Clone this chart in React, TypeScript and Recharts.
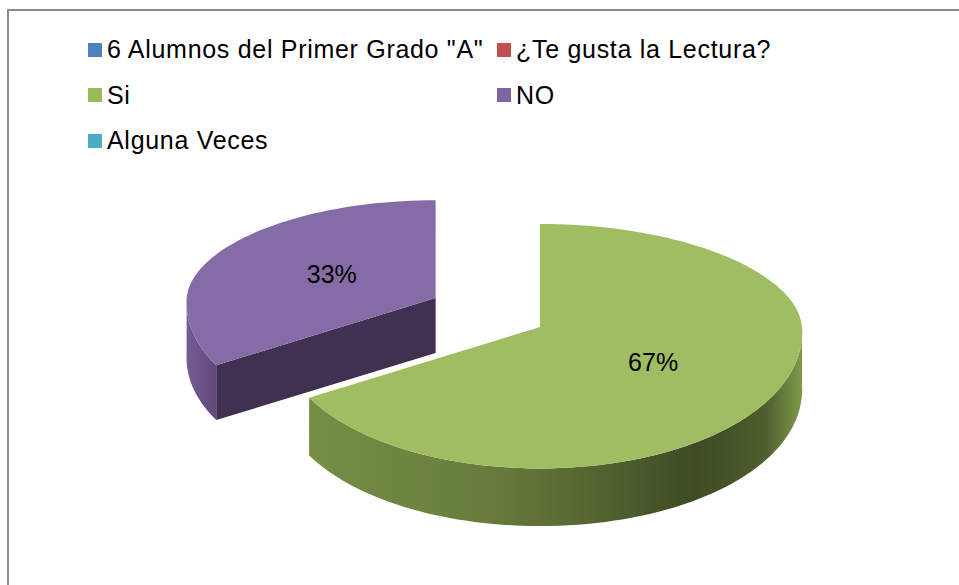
import React from "react";
import { Cell, Legend, Pie, PieChart } from "recharts";

const categories = ['6 Alumnos del Primer Grado "A"', "¿Te gusta la Lectura?", "Si", "NO", "Alguna Veces"];
const students = [0, 0, 4, 2, 0];
const exploded = ["NO"];

const COLORS = ["#4F81BD", "#C0504D", "#9BBB59", "#8064A2", "#4BACC6"];
const FONT = '"Liberation Sans", Arial, sans-serif';

const data = categories.map((name, i) => ({ name, value: students[i] }));

// fake 3d: squashed ellipse, front half a bit taller/wider than the back half
const RAD = Math.PI / 180;
const BACK = 0.393;
const FRONT = 0.54;
const WIDEN = 0.035;
const DEPTH = 0.22;
const EXPLODE = 0.46;

function shade(hex: string, k: number) {
  const n = parseInt(hex.slice(1), 16);
  const c = [(n >> 16) & 255, (n >> 8) & 255, n & 255].map((v) =>
    k <= 1 ? Math.round(v * k) : Math.round(v + (255 - v) * (k - 1))
  );
  return `rgb(${c[0]},${c[1]},${c[2]})`;
}

function pt(cx: number, cy: number, r: number, a: number, z = 0): [number, number] {
  const s = Math.sin(a * RAD);
  return [cx + r * (1 - WIDEN * s) * Math.cos(a * RAD), cy - s * r * (s > 0 ? BACK : FRONT) + z];
}

function arc(cx: number, cy: number, r: number, from: number, to: number, z = 0) {
  const n = Math.max(2, Math.ceil(Math.abs(to - from) / 2));
  const pts: [number, number][] = [];
  for (let i = 0; i <= n; i++) pts.push(pt(cx, cy, r, from + ((to - from) * i) / n, z));
  return pts;
}

const toPath = (pts: [number, number][]) =>
  pts.map((p, i) => `${i ? "L" : "M"}${p[0].toFixed(1)},${p[1].toFixed(1)}`).join("") + "Z";

function offsetFor(name: string, mid: number, r: number) {
  if (!exploded.includes(name)) return [0, 0];
  return [EXPLODE * r * Math.cos(mid * RAD), -EXPLODE * r * Math.sin(mid * RAD) * 0.48];
}

function sliceInfo(props: any) {
  const { cx, cy, outerRadius, startAngle: s, endAngle: e, fill } = props;
  const name = props.payload?.name ?? props.name;
  const [dx, dy] = offsetFor(name, (s + e) / 2, outerRadius);
  // pieces pushed to the back look a little smaller
  const r = outerRadius * (1 + (dy / outerRadius) * 0.45);
  return { x: cx + dx, y: cy + dy, r, s, e, fill, name };
}

function Walls(props: any) {
  const { x, y, r, s, e, fill, name } = sliceInfo(props);
  if (Math.abs(s - e) < 0.01) return <g />;
  const d = r * DEPTH;
  const id = `wall-${categories.indexOf(name)}`;
  const lo = Math.min(s, e);
  const hi = Math.max(s, e);
  const spans: [number, number][] = [];
  for (const k of [-360, 0, 360]) {
    const a = Math.max(lo, -180 + k);
    const b = Math.min(hi, k);
    if (b > a) spans.push([a, b]);
  }
  const radial: [number, number][][] = [];
  if (Math.cos(s * RAD) < -1e-6) radial.push([[x, y], pt(x, y, r, s), pt(x, y, r, s, d), [x, y + d]]);
  if (Math.cos(e * RAD) > 1e-6) radial.push([[x, y], pt(x, y, r, e), pt(x, y, r, e, d), [x, y + d]]);
  return (
    <g>
      <defs>
        <linearGradient id={id} gradientUnits="userSpaceOnUse" x1={x - r * 1.02} y1={0} x2={x + r} y2={0}>
          <stop offset="0" stopColor={shade(fill, 0.95)} />
          <stop offset="0.06" stopColor={shade(fill, 0.76)} />
          <stop offset="0.4" stopColor={shade(fill, 0.67)} />
          <stop offset="0.55" stopColor={shade(fill, 0.58)} />
          <stop offset="0.8" stopColor={shade(fill, 0.4)} />
          <stop offset="0.93" stopColor={shade(fill, 0.5)} />
          <stop offset="1" stopColor={shade(fill, 0.82)} />
        </linearGradient>
      </defs>
      {radial.map((q, i) => (
        <path key={i} d={toPath(q)} fill={shade(fill, 0.49)} />
      ))}
      {spans.map(([a, b], i) => (
        <path key={`o${i}`} d={toPath([...arc(x, y, r, b, a), ...arc(x, y, r, a, b, d)])} fill={`url(#${id})`} />
      ))}
    </g>
  );
}

function Top(props: any) {
  const { x, y, r, s, e, fill } = sliceInfo(props);
  if (Math.abs(s - e) < 0.01) return <g />;
  return <path d={toPath([[x, y], ...arc(x, y, r, s, e)])} fill={shade(fill, 1.05)} />;
}

function renderLabel(props: any) {
  const { midAngle, percent, value } = props;
  if (!value) return null;
  const { x, y, r } = sliceInfo({ ...props, startAngle: midAngle, endAngle: midAngle });
  const [lx, ly] = pt(x, y, r * 0.49, midAngle);
  return (
    <text x={lx} y={ly} textAnchor="middle" dominantBaseline="central" fontSize={25} fontFamily={FONT} fill="#000">
      {`${Math.round(percent * 100)}%`}
    </text>
  );
}

function LegendBox() {
  return (
    <div
      style={{
        display: "grid",
        gridTemplateColumns: "409px auto",
        gridAutoRows: "45.5px",
        fontFamily: FONT,
        fontSize: 25,
        letterSpacing: 0.7,
        color: "#000",
      }}
    >
      {categories.map((c, i) => (
        <div key={c} style={{ display: "flex", alignItems: "center", whiteSpace: "nowrap" }}>
          <span style={{ width: 14, height: 14, background: COLORS[i], marginRight: 5, flex: "none" }} />
          {c}
        </div>
      ))}
    </div>
  );
}

export default function App() {
  return (
    <div style={{ position: "fixed", left: 0, top: 0, width: 959, height: 585, background: "#fff", overflow: "hidden" }}>
      <div
        style={{
          position: "absolute",
          left: 7,
          top: 9,
          width: 960,
          height: 600,
          borderTop: "2px solid #8a8a8a",
          borderLeft: "2px solid #8a8a8a",
        }}
      />
      <PieChart width={959} height={585} margin={{ top: 0, right: 0, bottom: 0, left: 0 }} style={{ position: "absolute", left: 0, top: 0 }}>
        <Pie
          data={data}
          dataKey="value"
          nameKey="name"
          cx={540}
          cy={327}
          outerRadius={262}
          startAngle={90}
          endAngle={-270}
          stroke="none"
          legendType="none"
          isAnimationActive={false}
          shape={Walls}
          inactiveShape={Walls}
          activeShape={Walls}
        >
          {data.map((d, i) => (
            <Cell key={d.name} fill={COLORS[i]} />
          ))}
        </Pie>
        <Pie
          data={data}
          dataKey="value"
          nameKey="name"
          cx={540}
          cy={327}
          outerRadius={262}
          startAngle={90}
          endAngle={-270}
          stroke="none"
          label={renderLabel}
          labelLine={false}
          isAnimationActive={false}
          shape={Top}
          inactiveShape={Top}
          activeShape={Top}
        >
          {data.map((d, i) => (
            <Cell key={d.name} fill={COLORS[i]} />
          ))}
        </Pie>
        <Legend content={() => <LegendBox />} wrapperStyle={{ top: 27, left: 88, width: 760 }} />
      </PieChart>
    </div>
  );
}
